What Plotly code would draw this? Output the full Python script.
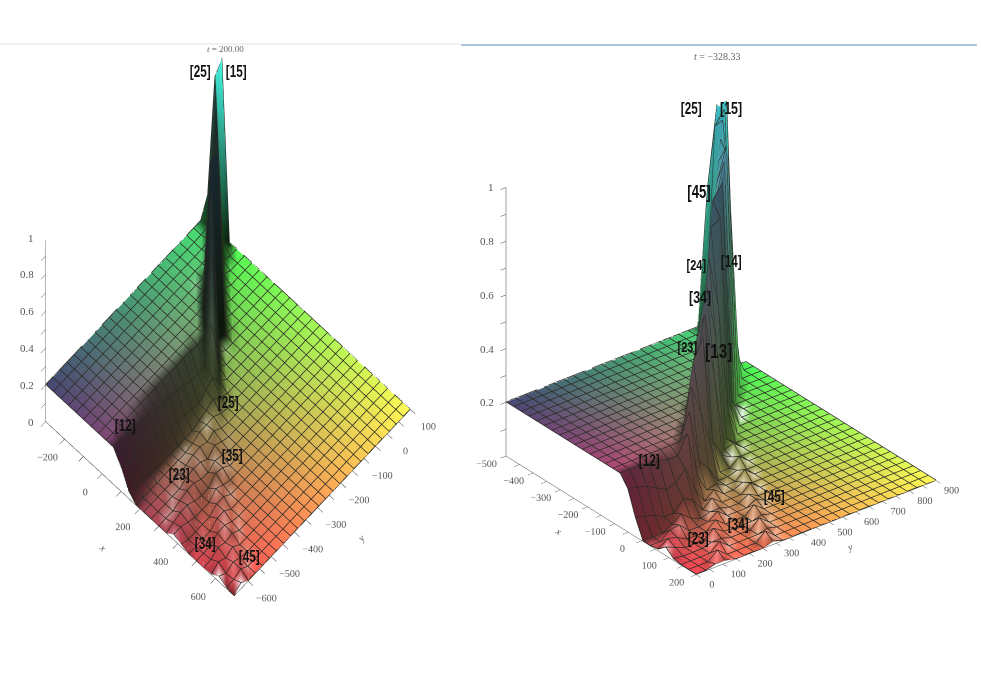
import numpy as np
import plotly.graph_objects as go

W, H = 981, 693

# left panel, t = 200.00
left_x = [-300, -260, -220, -180, -140, -100, -60, -20, 20, 60, 100, 140, 180, 220, 260, 300, 340, 380, 420, 460, 500, 540, 580, 620, 660, 700]
left_y = [-660, -630, -599, -569, -538, -508, -478, -447, -417, -386, -356, -326, -295, -265, -234, -204, -174, -143, -113, -82, -52, -22, 9, 39, 70, 100]
left_z = [
    [.2,.2,.2,.2,.2,.2,.2,.2,.2,.2,.13,.04,0,0,0,0,0,.03,.015,0,0,0,.005,.03,.005,0],
    [.2,.2,.2,.2,.2,.2,.2,.2,.2,.2,.12,.03,0,0,0,0,.015,.03,0,0,0,.005,.03,.005,.01,.03],
    [.2,.2,.2,.2,.2,.2,.2,.2,.2,.19,.11,.02,0,0,0,0,.03,.015,0,0,.005,.03,.01,.025,.025,0],
    [.2,.2,.2,.2,.2,.2,.2,.2,.2,.19,.10,.01,0,0,0,.015,.03,0,0,0,.03,.015,.03,.01,0,0],
    [.2,.2,.2,.2,.2,.2,.2,.2,.2,.18,.09,0,0,0,0,.03,.01,0,0,.03,.03,.025,0,0,0,0],
    [.2,.2,.2,.2,.2,.2,.2,.2,.2,.17,.08,0,0,0,.02,.03,0,0,.03,.03,.01,0,0,0,0,0],
    [.2,.2,.2,.2,.2,.2,.2,.2,.2,.16,.07,0,0,.01,.03,.01,0,.035,.03,0,0,0,0,0,0,0],
    [.2,.2,.2,.2,.2,.2,.2,.2,.2,.15,.06,0,0,.025,.025,.005,.04,.015,0,0,0,0,0,0,0,0],
    [.2,.2,.2,.2,.2,.2,.2,.2,.2,.15,.05,0,.01,.03,0,.03,.03,0,0,0,0,0,0,0,0,0],
    [.2,.2,.2,.2,.2,.2,.2,.2,.2,.14,.05,0,.03,.015,.035,.02,0,0,0,0,0,0,0,0,0,0],
    [.2,.2,.2,.2,.2,.2,.2,.2,.2,.13,.04,.015,.03,.035,.015,0,0,0,0,0,0,0,0,0,0,0],
    [.2,.2,.2,.2,.2,.2,.2,.2,.2,.12,.03,.03,.035,.01,0,0,0,0,0,0,0,0,0,0,0,0],
    [.2,.2,.2,.2,.2,.2,.2,.2,.2,.11,.06,.05,.01,0,0,0,0,0,0,0,0,0,0,0,0,0],
    [.2,.2,.2,.2,.2,.2,.2,.2,.19,.12,.09,.02,0,0,0,0,0,0,0,0,0,0,0,0,0,0],
    [.2,.2,.2,.2,.2,.2,.2,.2,.21,.3,.03,0,0,0,0,0,0,0,0,0,0,0,0,0,0,0],
    [.2,.2,.2,.2,.2,.2,.2,.21,.6,.03,0,0,0,0,0,0,0,0,0,0,0,0,0,0,0,0],
    [.2,.2,.2,.2,.2,.2,.21,.85,.03,0,0,0,0,0,0,0,0,0,0,0,0,0,0,0,0,0],
    [.2,.2,.2,.2,.2,.21,.96,.02,0,0,0,0,0,0,0,0,0,0,0,0,0,0,0,0,0,0],
    [.2,.2,.2,.2,.2,.45,.96,.01,0,0,0,0,0,0,0,0,0,0,0,0,0,0,0,0,0,0],
    [.2,.2,.2,.2,.21,.96,.02,0,0,0,0,0,0,0,0,0,0,0,0,0,0,0,0,0,0,0],
    [.2,.2,.2,.21,.96,.02,0,0,0,0,0,0,0,0,0,0,0,0,0,0,0,0,0,0,0,0],
    [.2,.2,.21,.96,.02,0,0,0,0,0,0,0,0,0,0,0,0,0,0,0,0,0,0,0,0,0],
    [.2,.21,.96,.02,0,0,0,0,0,0,0,0,0,0,0,0,0,0,0,0,0,0,0,0,0,0],
    [.3,.96,.02,0,0,0,0,0,0,0,0,0,0,0,0,0,0,0,0,0,0,0,0,0,0,0],
    [.9,.05,0,0,0,0,0,0,0,0,0,0,0,0,0,0,0,0,0,0,0,0,0,0,0,0],
    [.96,0,0,0,0,0,0,0,0,0,0,0,0,0,0,0,0,0,0,0,0,0,0,0,0,0],
]
left_xticks = [-200, -100, 0, 100, 200, 300, 400, 500, 600]
left_xlabels = ["\u2212200", "", "0", "", "200", "", "400", "", "600"]
left_yticks = [-600, -550, -500, -450, -400, -350, -300, -250, -200, -150, -100, -50, 0, 50, 100]
left_ylabels = ["\u2212600", "", "\u2212500", "", "\u2212400", "", "\u2212300", "", "\u2212200", "", "\u2212100", "", "0", "", "100"]
left_zlabels = ["0", "", "0.2", "", "0.4", "", "0.6", "", "0.8", "", "1"]

# right panel, t = -328.33
right_x = [-500, -472, -444, -416, -388, -360, -332, -304, -276, -248, -220, -192, -164, -136, -108, -80, -52, -24, 4, 32, 60, 88, 116, 144, 172, 200]
right_y = [0, 36, 72, 108, 144, 180, 216, 252, 288, 324, 360, 396, 432, 468, 504, 540, 576, 612, 648, 684, 720, 756, 792, 828, 864, 900]
right_z = [
    [.2,.2,.2,.2,.2,.2,.2,.2,.2,.2,.2,.2,.2,.2,.2,.2,.16,.07,0,0,.005,.03,.005,0,0,0],
    [.2,.2,.2,.2,.2,.2,.2,.2,.2,.2,.2,.2,.2,.2,.2,.2,.15,.06,0,0,.03,.015,0,0,0,0],
    [.2,.2,.2,.2,.2,.2,.2,.2,.2,.2,.2,.2,.2,.2,.2,.2,.14,.05,0,.03,.02,0,0,0,0,.01],
    [.2,.2,.2,.2,.2,.2,.2,.2,.2,.2,.2,.2,.2,.2,.2,.19,.12,.03,.02,.035,0,0,0,0,.03,.01],
    [.2,.2,.2,.2,.2,.2,.2,.2,.2,.2,.2,.2,.2,.2,.2,.19,.10,.03,.045,0,0,0,.01,.03,0,0],
    [.2,.2,.2,.2,.2,.2,.2,.2,.2,.2,.2,.2,.2,.2,.2,.18,.11,.07,.015,0,0,.03,.01,0,0,0],
    [.2,.2,.2,.2,.2,.2,.2,.2,.2,.2,.2,.2,.2,.2,.2,.18,.15,.05,0,.005,.03,.005,0,0,0,0],
    [.2,.2,.2,.2,.2,.2,.2,.2,.2,.2,.2,.2,.2,.2,.2,.25,.06,0,.01,.03,0,0,0,0,0,0],
    [.2,.2,.2,.2,.2,.2,.2,.2,.2,.2,.2,.2,.2,.2,.3,.08,0,.03,.01,0,0,0,0,0,.03,.01],
    [.2,.2,.2,.2,.2,.2,.2,.2,.2,.2,.2,.2,.2,.36,.1,.01,.03,0,0,0,0,0,.03,.01,0,0],
    [.2,.2,.2,.2,.2,.2,.2,.2,.2,.2,.2,.2,.42,.25,.06,.02,0,0,0,0,.03,.01,0,0,0,0],
    [.2,.2,.2,.2,.2,.2,.2,.2,.2,.2,.2,.35,.5,.12,0,0,0,0,.02,.02,0,0,0,0,0,0],
    [.2,.2,.2,.2,.2,.2,.2,.2,.2,.2,.45,.55,.1,0,0,0,.015,.03,0,0,0,0,0,0,0,0],
    [.2,.2,.2,.2,.2,.2,.2,.2,.2,.35,.62,.3,.03,0,.01,.03,0,0,0,0,0,0,0,0,0,0],
    [.2,.2,.2,.2,.2,.2,.2,.2,.3,.7,.4,.02,.01,.03,0,0,0,0,0,0,0,0,0,0,0,0],
    [.2,.2,.2,.2,.2,.2,.2,.3,.78,.5,.03,.03,0,0,0,0,0,0,0,0,0,0,0,0,0,0],
    [.2,.2,.2,.2,.2,.2,.3,.85,.8,.1,0,0,0,0,0,0,0,0,0,0,0,0,0,0,0,0],
    [.2,.2,.2,.2,.2,.3,.8,.9,.1,0,0,0,0,0,0,0,0,0,0,0,0,0,0,0,0,0],
    [.2,.2,.2,.2,.3,.85,.95,.08,0,0,0,0,0,0,0,0,0,0,0,0,0,0,0,0,0,0],
    [.2,.2,.2,.3,.9,.97,.03,0,0,0,0,0,0,0,0,0,0,0,0,0,0,0,0,0,0,0],
    [.2,.2,.35,.95,.9,0,0,0,0,0,0,0,0,0,0,0,0,0,0,0,0,0,0,0,0,0],
    [.7,.95,.99,.7,0,0,0,0,0,0,0,0,0,0,0,0,0,0,0,0,0,0,0,0,0,0],
    [1,1,.3,0,0,0,0,0,0,0,0,0,0,0,0,0,0,0,0,0,0,0,0,0,0,0],
    [1,.1,0,0,0,0,0,0,0,0,0,0,0,0,0,0,0,0,0,0,0,0,0,0,0,0],
    [0,0,0,0,0,0,0,0,0,0,0,0,0,0,0,0,0,0,0,0,0,0,0,0,0,0],
    [0,0,0,0,0,0,0,0,0,0,0,0,0,0,0,0,0,0,0,0,0,0,0,0,0,0],
]
right_xticks = [-500, -450, -400, -350, -300, -250, -200, -150, -100, -50, 0, 50, 100, 150, 200]
right_xlabels = ["\u2212500", "", "\u2212400", "", "\u2212300", "", "\u2212200", "", "\u2212100", "", "0", "", "100", "", "200"]
right_yticks = [0, 50, 100, 150, 200, 250, 300, 350, 400, 450, 500, 550, 600, 650, 700, 750, 800, 850, 900]
right_ylabels = ["0", "", "100", "", "200", "", "300", "", "400", "", "500", "", "600", "", "700", "", "800", "", "900"]
right_zlabels = ["", "", "0.2", "", "0.4", "", "0.6", "", "0.8", "", "1"]

z_ticks = [0, .1, .2, .3, .4, .5, .6, .7, .8, .9, 1]

# [text, x px, y px, font size]
left_notes = [["[25]", 200, 71, 16], ["[15]", 236, 71, 16], ["[12]", 125, 426, 16], ["[25]", 228, 402, 16],
              ["[35]", 232, 455, 16], ["[23]", 179, 475, 16], ["[34]", 205, 543, 16], ["[45]", 249, 556, 16]]
right_notes = [["[25]", 691, 108, 16], ["[15]", 731, 108, 17], ["[45]", 699, 192, 18], ["[24]", 696, 264, 15],
               ["[14]", 731, 262, 16], ["[34]", 700, 298, 17], ["[23]", 687, 347, 15], ["[13]", 718, 350, 21],
               ["[12]", 649, 460, 16], ["[23]", 698, 538, 16], ["[34]", 738, 524, 16], ["[45]", 774, 497, 16]]


def shade_colors(X, Y, Z, k, low_dark):
    # Maple's xyz shading: red follows x, green follows y, blue follows z
    nx = (X - X.min()) / (X.max() - X.min())
    ny = (Y - Y.min()) / (Y.max() - Y.min())
    rgb = np.stack([70 + 185 * nx, 70 + 180 * ny, 85 + 155 * Z], axis=-1)
    dzj, dzi = np.gradient(Z)
    s = dzi - dzj
    # biggest step to a neighbour, so the thin crests go dark too
    step = np.zeros_like(Z)
    step[:-1] = np.maximum(step[:-1], np.abs(np.diff(Z, axis=0)))
    step[1:] = np.maximum(step[1:], np.abs(np.diff(Z, axis=0)))
    step[:, :-1] = np.maximum(step[:, :-1], np.abs(np.diff(Z, axis=1)))
    step[:, 1:] = np.maximum(step[:, 1:], np.abs(np.diff(Z, axis=1)))
    # the far end of the crest catches the light
    glow = np.clip((ny - 0.84) * 8, 0, 1) * (1 - nx) * (Z > 0.7)
    dark = np.clip(-s * 20, 0, 0.45)[..., None] * (Z[..., None] < 0.3)
    bright = np.clip(s * 45, 0, 0.92)[..., None] * (step[..., None] < 0.1)
    rgb = rgb * (1 - dark) / (1 + k * step[..., None] * (1 - glow[..., None]))
    rgb = rgb * np.where((Z[..., None] > 0.25) & (nx[..., None] > 0.26), low_dark, 1.0)
    rgb = rgb + (255 - rgb) * bright
    return ["rgb(%d,%d,%d)" % tuple(c) for c in np.clip(rgb, 0, 255).reshape(-1, 3)]


def surface_traces(xs, ys, zs, scene, k, low_dark):
    X, Y = np.meshgrid(xs, ys)
    Z = np.array(zs, dtype=float)
    ny, nx = Z.shape
    idx = np.arange(nx * ny).reshape(ny, nx)
    # split each cell along the direction the ridges run
    a, b, c, d = idx[:-1, :-1].ravel(), idx[:-1, 1:].ravel(), idx[1:, :-1].ravel(), idx[1:, 1:].ravel()
    mesh = go.Mesh3d(x=X.ravel(), y=Y.ravel(), z=Z.ravel(),
                     i=np.r_[a, b], j=np.r_[b, d], k=np.r_[c, c],
                     vertexcolor=shade_colors(X, Y, Z, k, low_dark), flatshading=False,
                     lighting=dict(ambient=1, diffuse=0, specular=0, fresnel=0, roughness=1),
                     hoverinfo="skip", showscale=False, scene=scene)
    lx, ly, lz = [], [], []
    for row in range(ny):
        lx += list(X[row]) + [None]
        ly += list(Y[row]) + [None]
        lz += list(Z[row] + 0.002) + [None]
    for col in range(nx):
        lx += list(X[:, col]) + [None]
        ly += list(Y[:, col]) + [None]
        lz += list(Z[:, col] + 0.002) + [None]
    lines = go.Scatter3d(x=lx, y=ly, z=lz, mode="lines", line=dict(color="#2a2a24", width=1.5),
                         hoverinfo="skip", showlegend=False, scene=scene)
    return [mesh, lines]


def axis_style(rng, vals, texts, title, labels=True):
    return dict(range=rng, tickmode="array", tickvals=vals, ticktext=texts, title=dict(text=title, font=dict(family="Liberation Serif", size=10, color="#555555")),
                showgrid=False, zeroline=False, showbackground=False, showspikes=False, showticklabels=labels,
                showline=True, linecolor="#444444", linewidth=1, ticks="outside", ticklen=7, tickcolor="#444444",
                tickangle=0, tickfont=dict(family="Liberation Serif", size=11, color="#555555"))


def z_notes(xs, ys, labels):
    # z tick labels sit straight left of the axis, native ones drift down
    out = []
    for val, text in zip(z_ticks, labels):
        if text:
            out.append(dict(x=xs[0], y=ys[0], z=val, text=text, showarrow=False, xanchor="right", xshift=-10,
                            font=dict(family="Liberation Serif", size=11, color="#555555")))
    return out


fig = go.Figure()
for tr in surface_traces(left_x, left_y, left_z, "scene", 4.0, 1.0):
    fig.add_trace(tr)
for tr in surface_traces(right_x, right_y, right_z, "scene2", 0.5, 0.6):
    fig.add_trace(tr)

notes = []
for text, px, py, size in left_notes + right_notes:
    notes.append(dict(text=text, x=px / W, y=1 - py / H, xref="paper", yref="paper", showarrow=False,
                      xanchor="center", yanchor="middle",
                      font=dict(family="Liberation Sans", size=size, color="#111111", weight="bold")))
notes.append(dict(text="<i>t</i> = 200.00", x=225 / W, y=1 - 49 / H, xref="paper", yref="paper", showarrow=False,
                  xanchor="center", yanchor="middle", font=dict(family="Liberation Serif", size=9, color="#666666")))
notes.append(dict(text="<i>t</i> = \u2212328.33", x=717 / W, y=1 - 57 / H, xref="paper", yref="paper", showarrow=False,
                  xanchor="center", yanchor="middle", font=dict(family="Liberation Serif", size=10, color="#666666")))

fig.update_layout(
    width=W, height=H, margin=dict(l=0, r=0, t=0, b=0), paper_bgcolor="white", showlegend=False,
    annotations=notes,
    shapes=[dict(type="line", xref="paper", yref="paper", x0=0, x1=460 / W, y0=1 - 44 / H, y1=1 - 44 / H, line=dict(color="#e4e4e4", width=1)),
            dict(type="line", xref="paper", yref="paper", x0=461 / W, x1=977 / W, y0=1 - 45 / H, y1=1 - 45 / H, line=dict(color="#93afd6", width=1.5))],
    scene=dict(domain=dict(x=[0, 456 / W], y=[1 - 627 / H, 1 - 20 / H]),
               aspectmode="manual", aspectratio=dict(x=.85, y=.85, z=4.14),
               camera=dict(projection=dict(type="orthographic"), eye=dict(x=0.2, y=-0.214, z=1.978), up=dict(x=0, y=0, z=1)),
               xaxis=axis_style([-300, 700], left_xticks, left_xlabels, "<i>x</i>"),
               yaxis=axis_style([-660, 100], left_yticks, left_ylabels, "<i>y</i>"),
               zaxis=axis_style([0, 1], z_ticks, left_zlabels, "", labels=False),
               annotations=z_notes(left_x, left_y, left_zlabels)),
    scene2=dict(domain=dict(x=[465 / W, 977 / W], y=[1 - 634 / H, 1 - 34 / H]),
                aspectmode="manual", aspectratio=dict(x=1.02, y=1.02, z=1.03),
                camera=dict(projection=dict(type="orthographic"), eye=dict(x=1.312, y=-1.041, z=0.953), up=dict(x=0, y=0, z=1)),
                xaxis=axis_style([-500, 200], right_xticks, right_xlabels, "<i>x</i>"),
                yaxis=axis_style([0, 900], right_yticks, right_ylabels, "<i>y</i>"),
                zaxis=axis_style([0, 1], z_ticks, right_zlabels, "", labels=False),
                annotations=z_notes(right_x, right_y, right_zlabels)),
)

# the region labels are set in a tall condensed face, none is installed so squeeze the bold sans
squeeze = """
document.body.style.margin = '0';
function squeezeNotes() {
  document.querySelectorAll('.annotation-text').forEach(function (t) {
    if (t.textContent.charAt(0) === '[') {
      var size = parseFloat(t.style.fontSize);
      t.setAttribute('textLength', 1.3 * size);
      t.setAttribute('lengthAdjust', 'spacingAndGlyphs');
    }
  });
}
squeezeNotes();
setTimeout(squeezeNotes, 200);
"""
fig.write_html("out.html", config=dict(displayModeBar=False), post_script=squeeze)
